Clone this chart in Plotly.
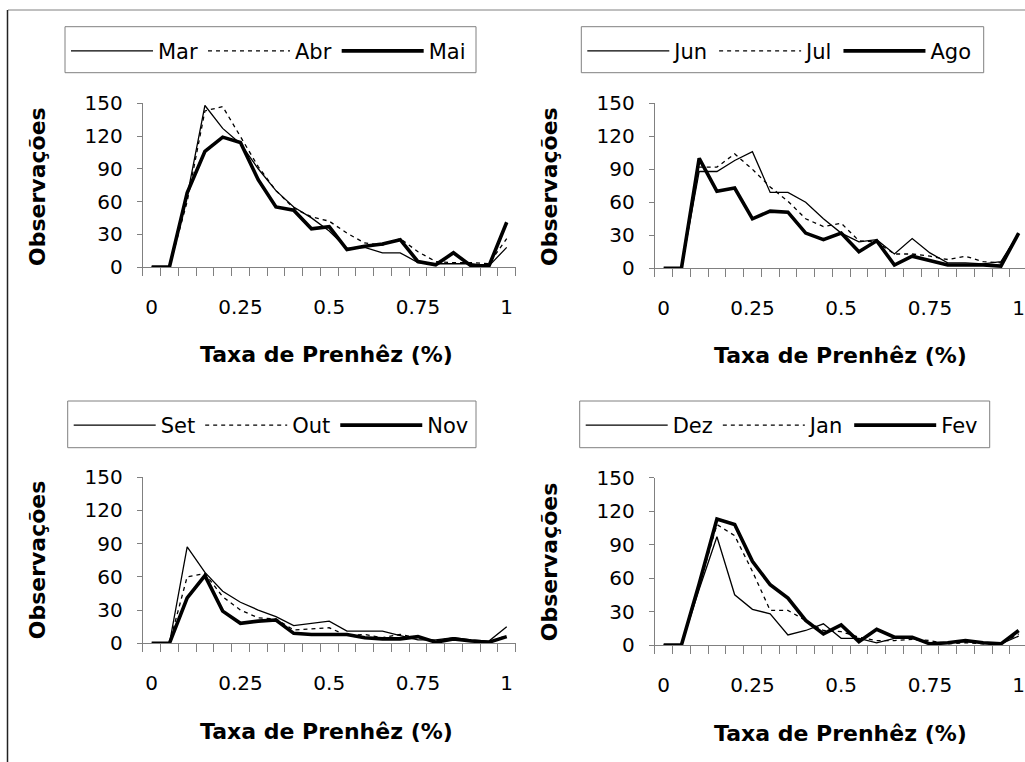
import plotly.graph_objects as go

# Pregnancy-rate classes (x) and monthly observation counts (y)
rates = [0.00, 0.05, 0.10, 0.15, 0.20, 0.25, 0.30, 0.35, 0.40, 0.45, 0.50,
         0.55, 0.60, 0.65, 0.70, 0.75, 0.80, 0.85, 0.90, 0.95, 1.00]

mar = [0, 0, 65, 148, 127, 113, 90, 70, 55, 45, 33, 17, 18, 13, 13, 4, 3, 3, 3, 1, 18]
abr = [0, 0, 60, 143, 147, 120, 92, 70, 54, 46, 42, 31, 22, 20, 26, 14, 5, 4, 4, 3, 26]
mai = [0, 0, 68, 106, 119, 114, 80, 55, 52, 35, 37, 16, 19, 21, 25, 5, 2, 13, 1, 1, 41]

jun = [0, 0, 88, 88, 98, 106, 69, 69, 60, 45, 32, 24, 26, 13, 27, 14, 5, 5, 4, 6, 32]
jul = [0, 0, 92, 92, 104, 90, 74, 61, 45, 38, 41, 25, 24, 13, 13, 11, 8, 11, 6, 5, 32]
ago = [0, 0, 100, 70, 73, 45, 52, 51, 32, 26, 32, 15, 25, 3, 11, 7, 3, 3, 3, 2, 32]

set_ = [0, 0, 87, 64, 47, 37, 30, 24, 16, 18, 20, 11, 11, 11, 7, 3, 3, 5, 3, 2, 15]
out = [0, 0, 60, 63, 42, 30, 23, 22, 12, 13, 14, 7, 8, 5, 8, 5, 2, 5, 2, 1, 7]
nov = [0, 0, 41, 61, 29, 18, 20, 21, 9, 8, 8, 8, 5, 4, 4, 6, 1, 4, 2, 1, 6]

dez = [0, 0, 50, 97, 45, 32, 28, 9, 13, 19, 6, 6, 2, 6, 6, 1, 2, 3, 2, 1, 8]
jan = [0, 0, 53, 108, 98, 66, 31, 31, 22, 13, 12, 7, 4, 4, 5, 4, 1, 2, 1, 1, 10]
fev = [0, 0, 55, 113, 108, 75, 54, 42, 22, 10, 18, 3, 14, 7, 7, 1, 2, 4, 2, 1, 13]

x_ticks = [0, 0.25, 0.5, 0.75, 1]
x_ticktext = ["0", "0.25", "0.5", "0.75", "1"]
y_ticks = [0, 30, 60, 90, 120, 150]

x_title = "Taxa de Prenhêz (%)"
y_title = "Observações"

W, H = 1025, 762
FONT = "DejaVu Sans"
AXIS_GRAY = "#808080"


def fx(px):
    return px / W


def fy(px):
    return 1 - px / H


panels = [
    dict(names=("Mar", "Abr", "Mai"), series=(mar, abr, mai),
         xpx=(142.8, 515.6), ypx=(103.3, 267.0), xr=[-0.025, 1.025],
         box=(65, 26.7, 476, 72.7), ytl=(37.3, 186.7), xtl=(326, 354)),
    dict(names=("Jun", "Jul", "Ago"), series=(jun, jul, ago),
         xpx=(654.8, 1025.0), ypx=(103.3, 268.3), xr=[-0.025, 1.0178],
         box=(581.3, 26.7, 983.7, 72.7), ytl=(549.3, 186.7), xtl=(840, 355)),
    dict(names=("Set", "Out", "Nov"), series=(set_, out, nov),
         xpx=(142.8, 515.6), ypx=(477.0, 643.3), xr=[-0.025, 1.025],
         box=(67.7, 401, 476, 447.7), ytl=(37.3, 560), xtl=(326, 731)),
    dict(names=("Dez", "Jan", "Fev"), series=(dez, jan, fev),
         xpx=(654.8, 1025.0), ypx=(477.7, 645.0), xr=[-0.025, 1.0178],
         box=(579.7, 401, 989.7, 447.7), ytl=(549.3, 562), xtl=(840, 733.5)),
]

styles = [
    dict(width=1.3, dash="solid"),
    dict(width=1.3, dash="4px,4px"),
    dict(width=3.6, dash="solid"),
]

fig = go.Figure()
layout = dict(
    width=W, height=H,
    margin=dict(l=0, r=0, t=0, b=0, autoexpand=False),
    paper_bgcolor="white", plot_bgcolor="white",
    font=dict(family=FONT, size=20, color="black"),
    showlegend=True,
)
annotations = []
shapes = [
    dict(type="line", xref="paper", yref="paper",
         x0=fx(8), x1=1, y0=fy(10), y1=fy(10),
         line=dict(color=AXIS_GRAY, width=1)),
    dict(type="line", xref="paper", yref="paper",
         x0=fx(7.5), x1=fx(7.5), y0=fy(10), y1=0,
         line=dict(color="#222222", width=1.5)),
]

for i, p in enumerate(panels):
    n = "" if i == 0 else str(i + 1)
    leg = "legend" + n
    for name, vals, st in zip(p["names"], p["series"], styles):
        fig.add_trace(go.Scatter(
            x=rates, y=vals, name=name, mode="lines",
            line=dict(color="black", width=st["width"], dash=st["dash"]),
            xaxis="x" + n, yaxis="y" + n, legend=leg,
            cliponaxis=False,
        ))
    layout["xaxis" + n] = dict(
        domain=[fx(p["xpx"][0]), fx(p["xpx"][1])],
        anchor="y" + n, range=p["xr"],
        showline=True, linecolor=AXIS_GRAY, linewidth=1,
        showgrid=False, zeroline=False,
        tickmode="array", tickvals=x_ticks, ticktext=x_ticktext,
        ticks="", ticklabelstandoff=22, ticklabeloverflow="allow",
        tickfont=dict(family=FONT, size=20, color="black"),
        minor=dict(ticks="outside", ticklen=8, tickcolor=AXIS_GRAY,
                   tickwidth=1, tick0=-0.025, dtick=0.05, showgrid=False),
    )
    layout["yaxis" + n] = dict(
        domain=[fy(p["ypx"][1]), fy(p["ypx"][0])],
        anchor="x" + n, range=[0, 150],
        showline=True, linecolor=AXIS_GRAY, linewidth=1,
        showgrid=False, zeroline=False,
        tickmode="array", tickvals=y_ticks,
        ticks="outside", ticklen=5, tickcolor=AXIS_GRAY,
        ticklabelstandoff=10,
        tickfont=dict(family=FONT, size=20, color="black"),
    )
    bx0, by0, bx1, by1 = p["box"]
    layout[leg] = dict(
        orientation="h", x=fx(bx0 + 1), y=fy(by0 + 4),
        xanchor="left", yanchor="top",
        borderwidth=0, bgcolor="rgba(0,0,0,0)",
        font=dict(family=FONT, size=21, color="black"),
        itemwidth=82,
        itemclick=False, itemdoubleclick=False,
    )
    shapes.append(dict(
        type="rect", xref="paper", yref="paper",
        x0=fx(bx0), x1=fx(bx1), y0=fy(by1), y1=fy(by0),
        line=dict(color=AXIS_GRAY, width=1), fillcolor="rgba(0,0,0,0)",
    ))
    annotations.append(dict(
        text=f"<b>{y_title}</b>", textangle=-90, showarrow=False,
        x=fx(p["ytl"][0]), y=fy(p["ytl"][1]), xref="paper", yref="paper",
        xanchor="center", yanchor="middle",
        font=dict(family=FONT, size=22, color="black"),
    ))
    annotations.append(dict(
        text=f"<b>{x_title}</b>", showarrow=False,
        x=fx(p["xtl"][0]), y=fy(p["xtl"][1]), xref="paper", yref="paper",
        xanchor="center", yanchor="middle",
        font=dict(family=FONT, size=22, color="black"),
    ))

layout["annotations"] = annotations
layout["shapes"] = shapes
fig.update_layout(**layout)
fig.write_html("out.html")
